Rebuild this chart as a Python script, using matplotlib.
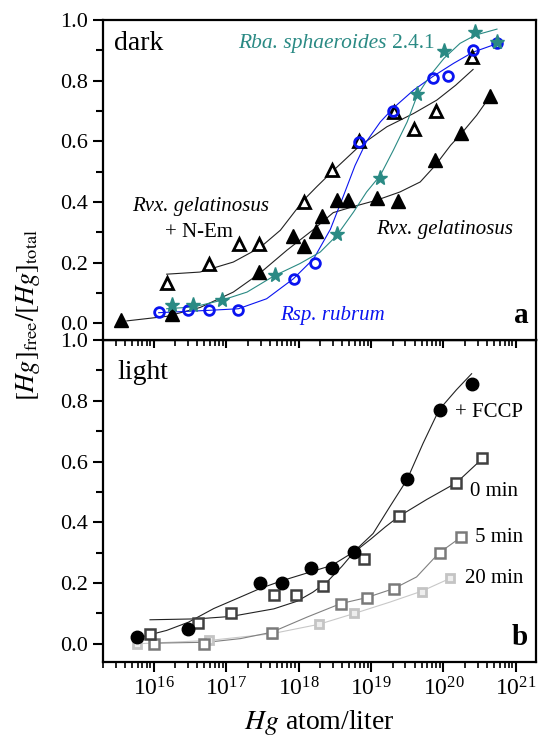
import numpy as np
import matplotlib
matplotlib.use("Agg")
import matplotlib.pyplot as plt
from matplotlib.ticker import LogLocator, MultipleLocator, NullFormatter

plt.rcParams['font.family'] = 'serif'
plt.rcParams['font.serif'] = ['Liberation Serif', 'DejaVu Serif']
plt.rcParams['mathtext.fontset'] = 'stix'

# ---- panel a (dark): x values given as log10(Hg atom/liter) ----
gel_x = [15.55, 16.25, 17.46, 17.92, 18.07, 18.24, 18.32, 18.53, 18.68, 19.08, 19.37, 19.89, 20.25, 20.64]
gel_y = [0.012, 0.032, 0.169, 0.288, 0.255, 0.304, 0.354, 0.406, 0.406, 0.412, 0.403, 0.538, 0.626, 0.749]
gel_fit_x = [15.63, 16.18, 16.64, 17.10, 17.46, 17.84, 18.21, 18.48, 18.76, 19.08, 19.40, 19.68, 19.89, 20.10, 20.25, 20.46, 20.64]
gel_fit_y = [0.008, 0.023, 0.052, 0.103, 0.164, 0.241, 0.310, 0.365, 0.385, 0.406, 0.433, 0.466, 0.521, 0.587, 0.626, 0.686, 0.747]

nem_x = [16.18, 16.76, 17.18, 17.46, 18.07, 18.46, 18.84, 19.32, 19.59, 19.90, 20.39]
nem_y = [0.132, 0.194, 0.260, 0.260, 0.400, 0.505, 0.600, 0.697, 0.640, 0.700, 0.879]
nem_fit_x = [16.18, 16.64, 17.10, 17.47, 17.75, 18.07, 18.25, 18.46, 18.84, 19.22, 19.59, 19.91, 20.17, 20.41]
nem_fit_y = [0.162, 0.169, 0.202, 0.250, 0.307, 0.406, 0.450, 0.499, 0.584, 0.648, 0.692, 0.736, 0.785, 0.837]

rub_x = [16.07, 16.48, 16.77, 17.17, 17.94, 18.23, 18.83, 19.31, 19.85, 20.07, 20.41, 20.74]
rub_y = [0.037, 0.045, 0.045, 0.045, 0.147, 0.198, 0.598, 0.700, 0.809, 0.816, 0.900, 0.923]
rub_fit_x = [16.07, 16.78, 17.17, 17.56, 17.93, 18.21, 18.44, 18.62, 18.78, 18.94, 19.13, 19.31, 19.59, 19.85, 20.14, 20.41, 20.74]
rub_fit_y = [0.035, 0.043, 0.048, 0.081, 0.147, 0.213, 0.310, 0.420, 0.520, 0.600, 0.664, 0.710, 0.769, 0.813, 0.857, 0.894, 0.922]

sph_x = [16.25, 16.54, 16.94, 17.67, 18.53, 19.13, 19.64, 20.01, 20.44, 20.74]
sph_y = [0.059, 0.059, 0.076, 0.158, 0.296, 0.478, 0.755, 0.898, 0.961, 0.928]
sph_fit_x = [16.18, 16.55, 16.94, 17.29, 17.66, 18.02, 18.30, 18.53, 18.76, 18.94, 19.13, 19.31, 19.50, 19.64, 19.82, 20.01, 20.23, 20.44, 20.74]
sph_fit_y = [0.048, 0.054, 0.076, 0.103, 0.156, 0.197, 0.235, 0.290, 0.367, 0.433, 0.488, 0.571, 0.664, 0.752, 0.818, 0.874, 0.923, 0.950, 0.970]

# ---- panel b (light) ----
fccp_x = [15.77, 16.48, 17.47, 17.77, 18.17, 18.46, 18.76, 19.50, 19.95, 20.39]
fccp_y = [0.022, 0.050, 0.201, 0.201, 0.250, 0.250, 0.302, 0.541, 0.770, 0.856]
fccp_fit_x = [15.82, 16.18, 16.48, 16.83, 17.20, 17.47, 17.79, 18.16, 18.46, 18.76, 19.03, 19.26, 19.50, 19.72, 19.94, 20.18, 20.39]
fccp_fit_y = [0.022, 0.044, 0.071, 0.116, 0.154, 0.182, 0.209, 0.236, 0.258, 0.302, 0.363, 0.451, 0.541, 0.660, 0.770, 0.836, 0.889]

m0_x = [15.95, 16.61, 17.07, 17.66, 17.97, 18.34, 18.91, 19.39, 20.18, 20.54]
m0_y = [0.033, 0.069, 0.100, 0.159, 0.159, 0.190, 0.280, 0.420, 0.530, 0.610]
m0_fit_x = [15.95, 16.60, 17.07, 17.66, 17.98, 18.20, 18.40, 18.60, 18.76, 19.00, 19.20, 19.39, 19.77, 20.18, 20.54]
m0_fit_y = [0.079, 0.082, 0.090, 0.115, 0.140, 0.170, 0.205, 0.255, 0.300, 0.345, 0.385, 0.420, 0.475, 0.530, 0.610]

m5_x = [16.00, 16.69, 17.63, 18.58, 18.94, 19.32, 19.95, 20.25]
m5_y = [0.000, 0.000, 0.036, 0.130, 0.150, 0.180, 0.300, 0.352]
m5_fit_x = [16.00, 16.74, 17.20, 17.63, 18.12, 18.58, 18.94, 19.32, 19.63, 19.94, 20.25]
m5_fit_y = [0.002, 0.005, 0.017, 0.038, 0.088, 0.132, 0.152, 0.182, 0.220, 0.299, 0.352]

m20_x = [15.77, 16.77, 17.63, 18.28, 18.76, 19.70, 20.09]
m20_y = [0.000, 0.011, 0.033, 0.064, 0.100, 0.172, 0.215]
m20_fit_x = [15.77, 16.77, 17.63, 18.28, 18.76, 19.26, 19.70, 20.09]
m20_fit_y = [0.000, 0.011, 0.033, 0.064, 0.099, 0.137, 0.173, 0.215]

teal = '#2a8a84'
blue = '#0a14f0'


def lx(v):
    return 10 ** np.array(v)


fig = plt.figure(figsize=(5.4, 7.36), dpi=100)
ax_b = fig.add_axes([103 / 540, 1 - 662 / 736, 433 / 540, 322 / 736])
ax_a = fig.add_axes([103 / 540, 1 - 340 / 736, 433 / 540, 320 / 736])

# panel a
ax_a.plot(lx(gel_fit_x), gel_fit_y, color='#222222', lw=0.8)
ax_a.plot(lx(nem_fit_x), nem_fit_y, color='#222222', lw=0.8)
ax_a.plot(lx(rub_fit_x), rub_fit_y, color=blue, lw=0.8)
ax_a.plot(lx(sph_fit_x), sph_fit_y, color=teal, lw=0.8)
ax_a.plot(lx(gel_x), gel_y, ls='none', marker='^', ms=10, color='black')
ax_a.plot(lx(nem_x), nem_y, ls='none', marker='^', ms=9, mfc='white', mec='black', mew=2)
ax_a.plot(lx(rub_x), rub_y, ls='none', marker='o', ms=7, mfc='none', mec=blue, mew=2)
ax_a.plot(lx(sph_x), sph_y, ls='none', marker='*', ms=11, color=teal)

ax_a.text(2.8e15, 0.921, 'dark', fontsize=20, va='center')
t_sph = ax_a.text(10 ** 17.17, 0.924, 'Rba. sphaeroides', fontsize=15.5, style='italic', color=teal, va='center')
ax_a.annotate('2.4.1', xy=(1, 0.5), xycoords=t_sph, xytext=(4, 0), textcoords='offset points',
              fontsize=15.5, color=teal, va='center')
ax_a.text(10 ** 16.65, 0.385, 'Rvx. gelatinosus', fontsize=15, style='italic', ha='center', va='center')
ax_a.text(10 ** 16.62, 0.298, '+ N-Em', fontsize=15, ha='center', va='center')
ax_a.text(10 ** 19.07, 0.308, 'Rvx. gelatinosus', fontsize=15, style='italic', va='center')
ax_a.text(10 ** 17.75, 0.027, 'Rsp. rubrum', fontsize=15, style='italic', color=blue, va='center')
ax_a.text(0.982, 0.053, 'a', transform=ax_a.transAxes, fontsize=21, fontweight='bold', ha='right', va='baseline')

# panel b
ax_b.plot(lx(m20_fit_x), m20_fit_y, color='#c8c8c8', lw=0.8)
ax_b.plot(lx(m5_fit_x), m5_fit_y, color='#808080', lw=0.8)
ax_b.plot(lx(m0_fit_x), m0_fit_y, color='#222222', lw=0.8)
ax_b.plot(lx(fccp_fit_x), fccp_fit_y, color='#222222', lw=0.8)
ax_b.plot(lx(m20_x), m20_y, ls='none', marker='s', ms=6, mfc='#eeeeee', mec='#c4c4c4', mew=2)
ax_b.plot(lx(m5_x), m5_y, ls='none', marker='s', ms=6.5, mfc='white', mec='#7a7a7a', mew=1.8)
ax_b.plot(lx(m0_x), m0_y, ls='none', marker='s', ms=7.5, mfc='white', mec='#404040', mew=1.8)
ax_b.plot(lx(fccp_x), fccp_y, ls='none', marker='o', ms=9, color='black')

ax_b.text(10 ** 15.50, 0.892, 'light', fontsize=20, va='center')
ax_b.text(10 ** 20.16, 0.761, '+ FCCP', fontsize=15, va='center')
ax_b.text(10 ** 20.37, 0.50, '0 min', fontsize=15, va='center')
ax_b.text(10 ** 20.44, 0.35, '5 min', fontsize=15, va='center')
ax_b.text(10 ** 20.30, 0.215, '20 min', fontsize=15, va='center')
ax_b.text(0.982, 0.053, 'b', transform=ax_b.transAxes, fontsize=21, fontweight='bold', ha='right', va='baseline')

for ax, ylo in ((ax_a, -0.055), (ax_b, -0.06)):
    ax.set_xscale('log')
    ax.set_xlim(2.0e15, 1.9e21)
    ax.set_ylim(ylo, 1.0)
    ax.yaxis.set_major_locator(MultipleLocator(0.2))
    ax.yaxis.set_minor_locator(MultipleLocator(0.1))
    ax.yaxis.set_major_formatter(plt.FormatStrFormatter('%.1f'))
    ax.xaxis.set_major_locator(LogLocator(base=10, numticks=20))
    ax.xaxis.set_minor_locator(LogLocator(base=10, subs=np.arange(2, 10), numticks=20))
    ax.xaxis.set_minor_formatter(NullFormatter())
    for s in ax.spines.values():
        s.set_linewidth(1.6)
    ax.tick_params(axis='y', which='major', direction='out', length=7, width=1.5, labelsize=16, right=False)
    ax.tick_params(axis='y', which='minor', direction='out', length=5, width=1.5, right=False)

ax_a.tick_params(axis='x', which='both', bottom=False, top=False, labelbottom=False)
ax_b.tick_params(axis='x', which='major', direction='out', length=7, width=1.5, labelsize=17, pad=4)
ax_b.tick_params(axis='x', which='minor', direction='out', length=4.5, width=1.2)

# inward ticks along the top of panel b
sec = ax_b.secondary_xaxis('top')
sec.xaxis.set_major_locator(LogLocator(base=10, numticks=20))
sec.xaxis.set_minor_locator(LogLocator(base=10, subs=np.arange(2, 10), numticks=20))
sec.xaxis.set_minor_formatter(NullFormatter())
sec.tick_params(axis='x', which='major', direction='in', length=6, width=1.5, labeltop=False)
sec.tick_params(axis='x', which='minor', direction='in', length=4, width=1.2)
sec.spines['top'].set_linewidth(1.6)

fig.text(28 / 540, 1 - 315 / 736, r'$[Hg]_{\rm free}/[Hg]_{\rm total}$', rotation=90,
         ha='center', va='center', fontsize=19)
fig.text(319.5 / 540, 1 - 729 / 736, r'$Hg$ atom/liter', ha='center', va='baseline', fontsize=20)

fig.savefig('out.png', dpi=100)
